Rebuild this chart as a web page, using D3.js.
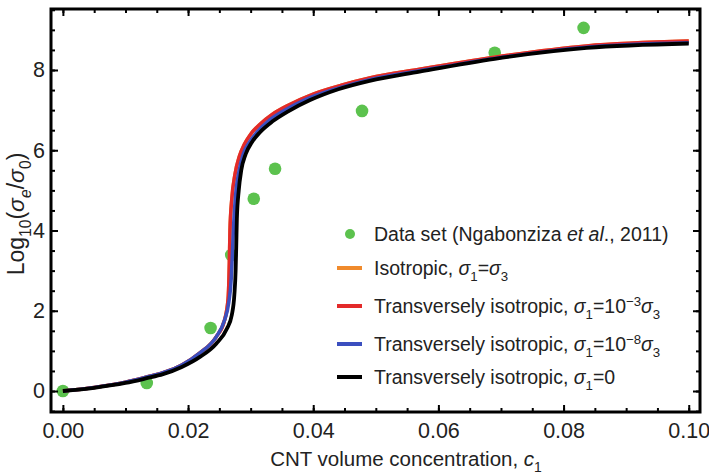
<!DOCTYPE html>
<html>
<head>
<meta charset="utf-8">
<script src="https://cdn.jsdelivr.net/npm/d3@7"></script>
<style>
  body { margin: 0; background: #fff; }
  svg { font-family: "Liberation Sans", Arial, sans-serif; }
</style>
</head>
<body>
<svg class="chart" width="709" height="476"></svg>
<script>
// Measured data set (Ngabonziza et al., 2011)
let dataX = [0, 0.0134, 0.0236, 0.0269, 0.0305, 0.0339, 0.0478, 0.0690, 0.0832];
let dataY = [0, 0.20, 1.57, 3.39, 4.79, 5.54, 6.98, 8.43, 9.05];

// Model curves
let isoX = [0, 0.005, 0.010, 0.0134, 0.016, 0.019, 0.0219, 0.0245, 0.0258, 0.0264, 0.0266, 0.0267, 0.0270, 0.0275, 0.0282, 0.029, 0.030, 0.0315, 0.0335, 0.036, 0.040, 0.0445, 0.049, 0.057, 0.069, 0.0837, 0.100];
let isoY = [0, 0.09, 0.22, 0.35, 0.46, 0.65, 0.95, 1.35, 1.75, 2.3, 3.2, 4.0, 4.8, 5.4, 5.85, 6.15, 6.4, 6.65, 6.9, 7.12, 7.4, 7.62, 7.8, 8.02, 8.32, 8.60, 8.72];

let trans3X = [0, 0.005, 0.010, 0.0134, 0.016, 0.019, 0.0219, 0.0245, 0.0258, 0.0264, 0.0266, 0.0267, 0.0270, 0.0275, 0.0282, 0.029, 0.030, 0.0315, 0.0335, 0.036, 0.040, 0.0445, 0.049, 0.057, 0.069, 0.0837, 0.100];
let trans3Y = [0, 0.09, 0.22, 0.35, 0.46, 0.65, 0.95, 1.35, 1.75, 2.3, 3.2, 4.0, 4.8, 5.4, 5.85, 6.15, 6.4, 6.65, 6.9, 7.12, 7.4, 7.62, 7.8, 8.02, 8.32, 8.60, 8.72];

let trans8X = [0, 0.005, 0.010, 0.0134, 0.016, 0.019, 0.0219, 0.0245, 0.0258, 0.0265, 0.0269, 0.0271, 0.0273, 0.0276, 0.0281, 0.0288, 0.0298, 0.031, 0.033, 0.0355, 0.039, 0.044, 0.049, 0.057, 0.069, 0.0837, 0.100];
let trans8Y = [0, 0.09, 0.22, 0.35, 0.46, 0.65, 0.95, 1.35, 1.75, 2.2, 2.8, 3.5, 4.2, 4.9, 5.45, 5.9, 6.2, 6.45, 6.75, 7.0, 7.28, 7.55, 7.76, 7.98, 8.29, 8.57, 8.68];

let trans0X = [0, 0.005, 0.010, 0.0134, 0.016, 0.019, 0.0219, 0.0245, 0.0262, 0.0270, 0.0274, 0.0276, 0.0277, 0.0278, 0.0281, 0.0285, 0.0292, 0.0302, 0.0315, 0.0335, 0.036, 0.0395, 0.044, 0.049, 0.057, 0.069, 0.0837, 0.100];
let trans0Y = [0, 0.08, 0.20, 0.32, 0.42, 0.60, 0.85, 1.18, 1.55, 1.9, 2.4, 3.0, 3.6, 4.3, 5.0, 5.5, 5.9, 6.2, 6.45, 6.72, 6.97, 7.25, 7.52, 7.73, 7.96, 8.28, 8.55, 8.66];

// Tick values
let xMajor = [0, 0.02, 0.04, 0.06, 0.08, 0.10];
let yMajor = [0, 2, 4, 6, 8];

let svg = d3.select(".chart");

let plotLeft = 51, plotRight = 700, plotTop = 9, plotBottom = 412;

let xScale = d3.scaleLinear().domain([-0.0019, 0.1018]).range([plotLeft, plotRight]);
let yScale = d3.scaleLinear().domain([-0.523, 9.52]).range([plotBottom, plotTop]);

let xMinor = d3.range(0, 0.1001, 0.005);
let yMinor = d3.range(-0.5, 9.51, 0.5);

// Data points go under the curves
svg.append("g")
  .selectAll("circle")
  .data(dataX.map((d, i) => [d, dataY[i]]))
  .enter()
  .append("circle")
  .attr("cx", d => xScale(d[0]))
  .attr("cy", d => yScale(d[1]))
  .attr("r", 6.3)
  .attr("fill", "#5cc24e");

let line = d3.line()
  .x(d => xScale(d[0]))
  .y(d => yScale(d[1]))
  .curve(d3.curveMonotoneX);

let series = [
  { xs: isoX, ys: isoY, color: "#f08a2c", width: 3.5 },
  { xs: trans3X, ys: trans3Y, color: "#e32a2a", width: 3.5 },
  { xs: trans8X, ys: trans8Y, color: "#3b4fbf", width: 3.5 },
  { xs: trans0X, ys: trans0Y, color: "#000000", width: 3.8 }
];

series.forEach(s => {
  svg.append("path")
    .datum(s.xs.map((d, i) => [d, s.ys[i]]))
    .attr("d", line)
    .attr("fill", "none")
    .attr("stroke", s.color)
    .attr("stroke-width", s.width)
    .attr("stroke-linejoin", "round");
});

// Axes: ticks point inwards on all four sides
function tickAxis(axis, values, size) {
  return axis.tickValues(values).tickSizeInner(-size).tickSizeOuter(0).tickFormat("");
}

svg.append("g")
  .attr("transform", "translate(0," + plotBottom + ")")
  .call(tickAxis(d3.axisBottom(xScale), xMinor, 4))
  .call(g => g.select(".domain").remove());
svg.append("g")
  .attr("transform", "translate(0," + plotBottom + ")")
  .call(d3.axisBottom(xScale).tickValues(xMajor).tickSizeInner(-7).tickSizeOuter(0)
    .tickPadding(11).tickFormat(d3.format(".2f")))
  .call(g => g.select(".domain").remove())
  .selectAll("text")
  .style("font-size", "21.5px")
  .style("font-family", "Liberation Sans, Arial, sans-serif")
  .attr("fill", "#222");

svg.append("g")
  .attr("transform", "translate(0," + plotTop + ")")
  .call(tickAxis(d3.axisTop(xScale), xMinor, 4))
  .call(g => g.select(".domain").remove());
svg.append("g")
  .attr("transform", "translate(0," + plotTop + ")")
  .call(tickAxis(d3.axisTop(xScale), xMajor, 7))
  .call(g => g.select(".domain").remove());

svg.append("g")
  .attr("transform", "translate(" + plotLeft + ",0)")
  .call(tickAxis(d3.axisLeft(yScale), yMinor, 4))
  .call(g => g.select(".domain").remove());
svg.append("g")
  .attr("transform", "translate(" + plotLeft + ",0)")
  .call(d3.axisLeft(yScale).tickValues(yMajor).tickSizeInner(-7).tickSizeOuter(0)
    .tickPadding(6).tickFormat(d3.format("d")))
  .call(g => g.select(".domain").remove())
  .selectAll("text")
  .style("font-size", "21.5px")
  .style("font-family", "Liberation Sans, Arial, sans-serif")
  .attr("fill", "#222");

svg.append("g")
  .attr("transform", "translate(" + plotRight + ",0)")
  .call(tickAxis(d3.axisRight(yScale), yMinor, 4))
  .call(g => g.select(".domain").remove());
svg.append("g")
  .attr("transform", "translate(" + plotRight + ",0)")
  .call(tickAxis(d3.axisRight(yScale), yMajor, 7))
  .call(g => g.select(".domain").remove());

svg.selectAll(".tick line").attr("stroke-width", 2);

// Frame
svg.append("rect")
  .attr("x", plotLeft)
  .attr("y", plotTop)
  .attr("width", plotRight - plotLeft)
  .attr("height", plotBottom - plotTop)
  .attr("fill", "none")
  .attr("stroke", "#000")
  .attr("stroke-width", 3);

// Rich text helper: parts are [text, kind] with kind "", "i", "sub", "sup", "isub"
function richText(sel, parts, size) {
  let shift = 0;
  parts.forEach(p => {
    let t = sel.append("tspan").text(p[0]);
    let kind = p[1] || "";
    let want = 0;
    if (kind.indexOf("sub") >= 0) want = size * 0.3;
    if (kind.indexOf("sup") >= 0) want = -size * 0.38;
    if (want !== shift) { t.attr("dy", want - shift); shift = want; }
    if (kind.indexOf("sub") >= 0 || kind.indexOf("sup") >= 0) t.style("font-size", (size * 0.68) + "px");
    if (kind.indexOf("i") === 0) t.style("font-style", "italic");
  });
}

// Axis titles
let xTitle = svg.append("text")
  .attr("x", 406)
  .attr("y", 466)
  .attr("text-anchor", "middle")
  .style("font-size", "20.5px")
  .attr("fill", "#222");
richText(xTitle, [["CNT volume concentration, "], ["c", "i"], ["1", "sub"]], 20.5);

let yTitle = svg.append("text")
  .attr("transform", "translate(24,214)rotate(-90)")
  .attr("text-anchor", "middle")
  .style("font-size", "23px")
  .attr("fill", "#222");
richText(yTitle, [["Log"], ["10", "sub"], ["("], ["σ", "i"], ["e", "isub"], ["/"], ["σ", "i"], ["0", "sub"], [")"]], 23);

// Legend
let legendRows = [
  { kind: "dot", color: "#5cc24e", y: 234,
    parts: [["Data set (Ngabonziza "], ["et al", "i"], ["., 2011)"]] },
  { kind: "line", color: "#f08a2c", y: 268,
    parts: [["Isotropic, "], ["σ", "i"], ["1", "sub"], ["="], ["σ", "i"], ["3", "sub"]] },
  { kind: "line", color: "#e32a2a", y: 306,
    parts: [["Transversely isotropic, "], ["σ", "i"], ["1", "sub"], ["=10"], ["−3", "sup"], ["σ", "i"], ["3", "sub"]] },
  { kind: "line", color: "#3b4fbf", y: 344,
    parts: [["Transversely isotropic, "], ["σ", "i"], ["1", "sub"], ["=10"], ["−8", "sup"], ["σ", "i"], ["3", "sub"]] },
  { kind: "line", color: "#000000", y: 377,
    parts: [["Transversely isotropic, "], ["σ", "i"], ["1", "sub"], ["=0"]] }
];

let legend = svg.append("g");
legendRows.forEach(r => {
  if (r.kind === "dot") {
    legend.append("circle").attr("cx", 350).attr("cy", r.y).attr("r", 5).attr("fill", r.color);
  } else {
    legend.append("line")
      .attr("x1", 337).attr("x2", 362)
      .attr("y1", r.y).attr("y2", r.y)
      .attr("stroke", r.color).attr("stroke-width", 4);
  }
  let t = legend.append("text")
    .attr("x", 374)
    .attr("y", r.y + 7)
    .style("font-size", "19.5px")
    .attr("fill", "#222");
  richText(t, r.parts, 19.5);
});
</script>
</body>
</html>
